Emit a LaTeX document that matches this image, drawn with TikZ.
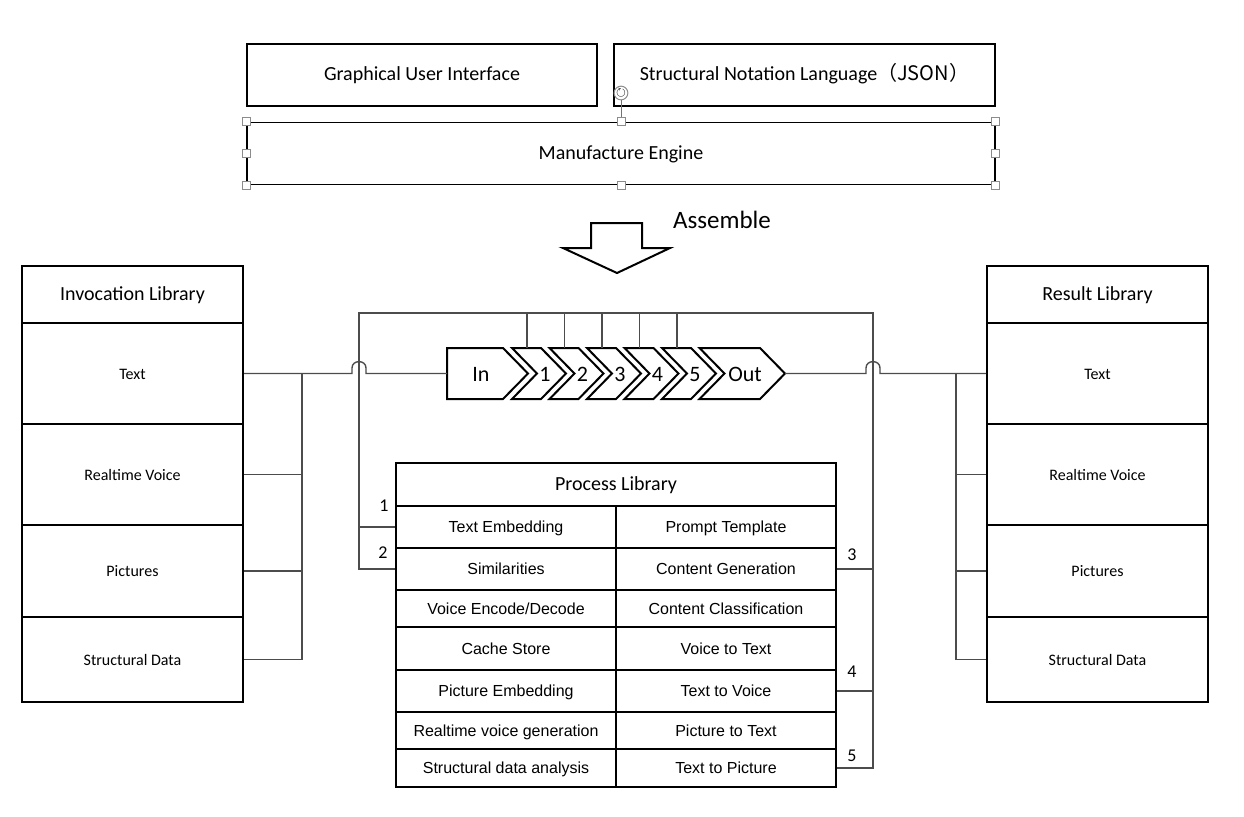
\documentclass[tikz,border=0pt]{standalone}
\usepackage{fontspec}
\usepackage{amssymb}
\setmainfont{Carlito}
\newfontfamily\arialfont{Liberation Sans}
\newfontfamily\cjkfont{Noto Sans CJK SC}

\tikzset{
  box/.style={draw, line width=1.2pt, inner sep=0pt, text height=1.6ex, text depth=0.4ex, font=\fontsize{10}{12}\selectfont},
  libhead/.style={draw, line width=1pt, inner sep=0pt, minimum width=110.5pt, minimum height=28.5pt, text height=1.6ex, text depth=0.4ex, font=\fontsize{10}{12}\selectfont},
  libcell/.style={draw, line width=1pt, inner sep=0pt, minimum width=110.5pt, text height=1.6ex, text depth=0.4ex, font=\fontsize{8}{10}\selectfont},
  pcell/.style={draw, line width=1pt, inner sep=0pt, minimum width=110pt, text height=1.6ex, text depth=0.4ex, font=\arialfont\fontsize{8}{10}\selectfont},
  chev/.style={draw, line width=1pt, fill=white},
  chevtext/.style={inner sep=0pt, anchor=base, font=\fontsize{11}{12}\selectfont},
  conn/.style={draw=black!70, line width=0.7pt},
  numlabel/.style={inner sep=0pt, font=\fontsize{9}{10}\selectfont},
  handle/.style={draw=black!45, fill=white, line width=0.5pt, minimum size=4pt, inner sep=0pt}
}

\begin{document}
\begin{tikzpicture}[x=0.5pt, y=-0.5pt]
\useasboundingbox (0,0) rectangle (1244,816);

% top: interface, notation, engine
\node[box, minimum width=175pt, minimum height=31pt] (gui) at (422,75) {Graphical User Interface};
\node[box, minimum width=190.5pt, minimum height=31pt] (snl) at (804.5,75) {Structural Notation Language\cjkfont{（}JSON\cjkfont{）}};
\node[box, line width=0.9pt, minimum width=374pt, minimum height=31pt] (me) at (621,153.5) {Manufacture Engine};
\node[draw=black!45, fill=white, circle, line width=0.5pt, minimum size=5pt, inner sep=0pt, font=\tiny] (rot) at (621,93) {$\circlearrowright$};
\draw[black!55, line width=0.5pt] (rot) -- (me.north);
\node[handle] (h1) at (me.north west) {};
\node[handle] (h2) at (me.north) {};
\node[handle] (h3) at (me.north east) {};
\node[handle] (h4) at (me.west) {};
\node[handle] (h5) at (me.east) {};
\node[handle] (h6) at (me.south west) {};
\node[handle] (h7) at (me.south) {};
\node[handle] (h8) at (me.south east) {};

% assemble arrow
\draw[line width=1pt] (591,223) -- (642,223) -- (642,248) -- (670,248) -- (617,273) -- (563,248) -- (591,248) -- cycle;
\node[font=\fontsize{12.5}{14}\selectfont] (asm) at (722,220) {Assemble};

% invocation library
\node[libhead] (ihead) at (132.5,294.5) {Invocation Library};
\node[libcell, minimum height=50.5pt] (itext) at (132.5,373.5) {Text};
\node[libcell, minimum height=50.5pt] (ivoice) at (132.5,474.5) {Realtime Voice};
\node[libcell, minimum height=46pt] (ipic) at (132.5,571) {Pictures};
\node[libcell, minimum height=42.5pt] (isd) at (132.5,659.5) {Structural Data};

% result library
\node[libhead] (rhead) at (1097.5,294.5) {Result Library};
\node[libcell, minimum height=50.5pt] (rtext) at (1097.5,373.5) {Text};
\node[libcell, minimum height=50.5pt] (rvoice) at (1097.5,474.5) {Realtime Voice};
\node[libcell, minimum height=46pt] (rpic) at (1097.5,571) {Pictures};
\node[libcell, minimum height=42.5pt] (rsd) at (1097.5,659.5) {Structural Data};

% process library
\node[draw, line width=1pt, minimum width=220pt, minimum height=21.5pt, inner sep=0pt, text height=1.6ex, text depth=0.4ex, font=\fontsize{10}{12}\selectfont] (phead) at (616,484.5) {Process Library};
\node[pcell, minimum height=21pt] (pemb) at (506,527) {Text Embedding};
\node[pcell, minimum height=21pt] (ppt) at (726,527) {Prompt Template};
\node[pcell, minimum height=21pt] (psim) at (506,569) {Similarities};
\node[pcell, minimum height=21pt] (pgen) at (726,569) {Content Generation};
\node[pcell, minimum height=18.5pt] (pved) at (506,608.5) {Voice Encode/Decode};
\node[pcell, minimum height=18.5pt] (pcls) at (726,608.5) {Content Classification};
\node[pcell, minimum height=21.5pt] (pcache) at (506,648.5) {Cache Store};
\node[pcell, minimum height=21.5pt] (pvt) at (726,648.5) {Voice to Text};
\node[pcell, minimum height=21pt] (ppe) at (506,691) {Picture Embedding};
\node[pcell, minimum height=21pt] (ptv) at (726,691) {Text to Voice};
\node[pcell, minimum height=18.5pt] (prvg) at (506,730.5) {Realtime voice generation};
\node[pcell, minimum height=18.5pt] (ppt2) at (726,730.5) {Picture to Text};
\node[pcell, minimum height=19pt] (psda) at (506,768) {Structural data analysis};
\node[pcell, minimum height=19pt] (ptp) at (726,768) {Text to Picture};

% pipeline
\coordinate (loopL) at (359,313);
\coordinate (loopR) at (873,313);
\draw[chev] (447,348) -- (503,348) -- (528,373.5) -- (503,399) -- (447,399) -- cycle;
\node[chevtext] (in) at (481,381) {In};
\coordinate (inW) at (447,373.5);
\foreach \i/\L in {1/512,2/549.5,3/587,4/624.5,5/662} {
  \draw[chev] (\L,348) -- ++(29,0) -- ++(25,25.5) -- ++(-25,25.5) -- ++(-29,0) -- ++(25,-25.5) -- cycle;
  \node[chevtext] (ch\i) at (\L+33,381) {\i};
  \coordinate (stub\i) at (\L+15,348);
  \draw[conn] (stub\i) -- (stub\i |- loopL);
}
\draw[chev] (699.5,348) -- (760,348) -- (785,373.5) -- (760,399) -- (699.5,399) -- (724.5,373.5) -- cycle;
\node[chevtext] (out) at (745,381) {Out};
\coordinate (outE) at (785,373.5);

% connectors
\coordinate (ibus) at (302,373.5);
\coordinate (rbus) at (956,373.5);
\coordinate (hopL) at (359,373.5);
\coordinate (hopR) at (873,373.5);
\draw[conn] (ibus) |- (isd.east);
\draw[conn] (ivoice.east) -- (ivoice.east -| ibus);
\draw[conn] (ipic.east) -- (ipic.east -| ibus);
\draw[conn] (itext.east) -- ([xshift=-3.5pt]hopL) -- ++(0,-5.5) .. controls +(0,-8.5) and +(0,-8.5) .. ++(14,0) -- ++(0,5.5) -- (inW);
\draw[conn] (outE) -- ([xshift=-3.5pt]hopR) -- ++(0,-5.5) .. controls +(0,-8.5) and +(0,-8.5) .. ++(14,0) -- ++(0,5.5) -- (rtext.west);
\draw[conn] (rbus) |- (rsd.west);
\draw[conn] (rvoice.west) -- (rvoice.west -| rbus);
\draw[conn] (rpic.west) -- (rpic.west -| rbus);
\draw[conn] (psim.west) -| (loopL) -- (loopR) |- (ptp.east);
\draw[conn] (pemb.west) -- (pemb.west -| loopL);
\draw[conn] (pgen.east) -- (pgen.east -| loopR);
\draw[conn] (ptv.east) -- (ptv.east -| loopR);

% step numbers
\node[numlabel] (n1) at (384,506) {1};
\node[numlabel] (n2) at (383,553) {2};
\node[numlabel] (n3) at (852,555) {3};
\node[numlabel] (n4) at (852,672) {4};
\node[numlabel] (n5) at (852,756) {5};
\end{tikzpicture}
\end{document}
